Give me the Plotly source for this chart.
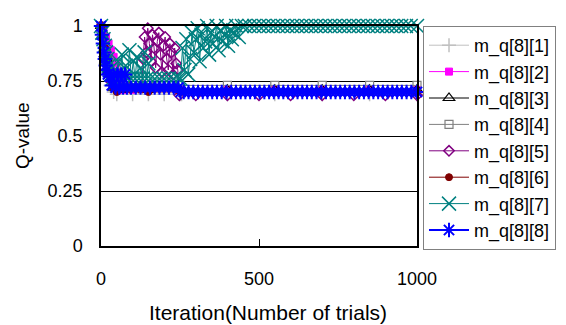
import plotly.graph_objects as go

# ---- data ----
names = ["m_q[8][1]", "m_q[8][2]", "m_q[8][3]", "m_q[8][4]",
         "m_q[8][5]", "m_q[8][6]", "m_q[8][7]", "m_q[8][8]"]

x1 = [0, 5, 10, 15, 20, 30, 40, 50, 100, 150, 200, 250, 255, 400, 550, 700, 850, 1000]
y1 = [1.00, 0.94, 0.88, 0.83, 0.78, 0.73, 0.70, 0.69, 0.69, 0.69, 0.69, 0.69, 0.69, 0.69, 0.69, 0.69, 0.69, 0.69]

x2 = [0, 8, 16, 24, 32, 40, 48, 55, 62, 70, 100, 150, 250, 400, 550, 700, 850, 1000]
y2 = [1.00, 0.98, 0.95, 0.92, 0.89, 0.86, 0.83, 0.79, 0.74, 0.71, 0.71, 0.71, 0.71, 0.71, 0.71, 0.71, 0.71, 0.71]

x3 = [0, 6, 12, 18, 24, 30, 40, 60, 150, 250, 400, 550, 700, 850, 1000]
y3 = [1.00, 0.95, 0.90, 0.85, 0.80, 0.76, 0.72, 0.71, 0.71, 0.71, 0.71, 0.71, 0.71, 0.71, 0.71]

x4 = [0, 6, 12, 18, 24, 30, 40, 50, 60, 150, 250, 400, 550, 700, 850, 1000]
y4 = [1.00, 0.96, 0.91, 0.87, 0.83, 0.79, 0.76, 0.74, 0.73, 0.73, 0.73, 0.73, 0.73, 0.73, 0.73, 0.73]

x5 = [0, 5, 10, 15, 20, 25, 30, 40, 60, 90, 120, 130,
      133, 138, 143, 148, 153, 158, 163, 168, 173, 178, 183, 188, 193, 198,
      203, 208, 213, 218, 223, 228, 233, 238, 243, 248,
      300, 400, 500, 600, 700, 800, 900, 1000]
y5 = [1.00, 0.95, 0.90, 0.86, 0.82, 0.78, 0.75, 0.73, 0.72, 0.72, 0.72, 0.72,
      0.85, 0.95, 0.88, 0.99, 0.92, 0.84, 0.96, 0.90, 0.81, 0.93, 0.97, 0.87, 0.79, 0.91,
      0.95, 0.85, 0.80, 0.92, 0.88, 0.78, 0.90, 0.83, 0.80, 0.685,
      0.685, 0.685, 0.685, 0.685, 0.685, 0.685, 0.685, 0.685]

x6 = [0, 6, 12, 18, 24, 30, 40, 50, 150, 250, 400, 550, 700, 850, 1000]
y6 = [1.00, 0.95, 0.90, 0.85, 0.80, 0.76, 0.72, 0.70, 0.70, 0.70, 0.70, 0.70, 0.70, 0.70, 0.70]

x7 = [0, 4, 8, 12, 16, 20, 24, 28, 32, 36,
      42, 48, 54, 60, 66, 72, 78, 84, 90, 96, 102, 108, 114, 120, 126, 132, 138, 144, 150, 156,
      170, 185, 200, 215, 230, 245, 252,
      258, 264, 270, 276, 282, 288, 294, 300, 306, 312, 318, 324, 330, 336, 342, 348, 354, 360,
      366, 372, 378, 384, 390, 396, 402, 408, 414, 420, 428, 436, 446,
      455, 470, 485, 500, 515, 530, 545, 560, 575, 590, 605, 620, 635, 650, 665, 680, 695,
      710, 725, 740, 755, 770, 785, 800, 815, 830, 845, 860, 875, 890, 905, 920, 935, 950,
      965, 980, 1000]
y7 = [1.00, 0.97, 0.94, 0.91, 0.88, 0.85, 0.82, 0.80, 0.78, 0.76,
      0.80, 0.76, 0.84, 0.76, 0.87, 0.76, 0.82, 0.76, 0.89, 0.76, 0.84, 0.76, 0.86, 0.76, 0.81,
      0.76, 0.88, 0.76, 0.83, 0.76,
      0.76, 0.76, 0.76, 0.76, 0.76, 0.76, 0.76,
      0.90, 0.80, 0.94, 0.78, 0.85, 0.97, 0.88, 0.94, 0.99, 0.84, 0.96, 0.90, 0.93, 1.00, 0.87,
      0.97, 0.92, 0.95, 1.00, 0.89, 0.98, 0.93, 0.96, 1.00, 0.91, 0.98, 0.94, 0.97, 1.00, 0.95,
      1.00,
      1.00, 1.00, 1.00, 1.00, 1.00, 1.00, 1.00, 1.00, 1.00, 1.00, 1.00, 1.00, 1.00, 1.00,
      1.00, 1.00, 1.00, 1.00, 1.00, 1.00, 1.00, 1.00, 1.00, 1.00, 1.00, 1.00, 1.00, 1.00,
      1.00, 1.00, 1.00, 1.00, 1.00, 1.00, 1.00, 1.00, 1.00, 1.00]

x8 = [0, 3, 6, 9, 12, 15, 18, 22, 28, 34, 40, 46, 52, 58, 64, 70, 76, 82,
      95, 110, 125, 140, 155, 170, 185, 200, 215, 230, 245, 252,
      262, 277, 292, 307, 322, 337, 352, 367, 382, 397, 412, 427, 442, 457, 472, 487,
      502, 517, 532, 547, 562, 577, 592, 607, 622, 637, 652, 667, 682, 697, 712, 727,
      742, 757, 772, 787, 802, 817, 832, 847, 862, 877, 892, 907, 922, 937, 952, 967,
      982, 1000]
y8 = [1.00, 0.96, 0.92, 0.88, 0.85, 0.82, 0.80, 0.78, 0.77, 0.73, 0.78, 0.72, 0.78, 0.72,
      0.78, 0.72, 0.78, 0.72,
      0.72, 0.72, 0.72, 0.72, 0.72, 0.72, 0.72, 0.72, 0.72, 0.72, 0.72, 0.70,
      0.70, 0.70, 0.70, 0.70, 0.70, 0.70, 0.70, 0.70, 0.70, 0.70, 0.70, 0.70, 0.70, 0.70,
      0.70, 0.70, 0.70, 0.70, 0.70, 0.70, 0.70, 0.70, 0.70, 0.70, 0.70, 0.70, 0.70, 0.70,
      0.70, 0.70, 0.70, 0.70, 0.70, 0.70, 0.70, 0.70, 0.70, 0.70, 0.70, 0.70, 0.70, 0.70,
      0.70, 0.70, 0.70, 0.70, 0.70, 0.70, 0.70, 0.70]

xs = [x1, x2, x3, x4, x5, x6, x7, x8]
ys = [y1, y2, y3, y4, y5, y6, y7, y8]

x_ticks = [0, 500, 1000]
y_ticks = [0, 0.25, 0.5, 0.75, 1]
y_tick_text = ["0", "0.25", "0.5", "0.75", "1"]

# ---- styles ----
colors = ["#C0C0C0", "#FF00FF", "#000000", "#808080",
          "#800080", "#800000", "#008080", "#0000FF"]
symbols = ["cross-thin-open", "square", "triangle-up-open", "square-open",
           "diamond-open", "circle", "x-thin-open", "asterisk-open"]
sizes = [10, 7, 10, 8, 8, 7, 14, 12]
line_w = [1, 1, 1, 1, 1, 1, 1, 2]
mk_w = [1.5, 1, 1.2, 1.2, 1.5, 1, 1.5, 2]

FONT = "Liberation Sans, Arial, sans-serif"

fig = go.Figure()
for i in range(8):
    fig.add_trace(go.Scatter(
        x=xs[i], y=ys[i], name=names[i], mode="lines+markers",
        line=dict(color=colors[i], width=line_w[i]),
        marker=dict(symbol=symbols[i], size=sizes[i], color=colors[i],
                    line=dict(color=colors[i], width=mk_w[i])),
        cliponaxis=False,
    ))

fig.update_layout(
    width=566, height=325,
    margin=dict(l=101, r=149, t=26, b=79, autoexpand=False),
    paper_bgcolor="white", plot_bgcolor="white",
    font=dict(family=FONT, size=18, color="black"),
    showlegend=True,
    legend=dict(
        x=1.019, y=1.0, xanchor="left", yanchor="top",
        bordercolor="#808080", borderwidth=1, bgcolor="white",
        font=dict(family=FONT, size=18, color="black"),
        itemwidth=40, tracegroupgap=0, maxheight=300,
    ),
    xaxis=dict(
        range=[0, 1000], tickvals=x_ticks, ticktext=[str(v) for v in x_ticks],
        ticks="inside", ticklen=7, tickcolor="black",
        showline=True, linecolor="black", linewidth=1.5, mirror=True,
        showgrid=False, zeroline=False, ticklabelstandoff=16,
        tickfont=dict(size=18),
    ),
    yaxis=dict(
        range=[0, 1], tickvals=y_ticks, ticktext=y_tick_text,
        ticks="", showline=True, linecolor="black", linewidth=1.5, mirror=True,
        showgrid=True, gridcolor="black", gridwidth=1, zeroline=False,
        ticklabelstandoff=13, tickfont=dict(size=18),
    ),
    annotations=[
        dict(text="Iteration(Number of trials)", x=0.527, y=0, xref="paper", yref="paper",
             xanchor="center", yanchor="middle", yshift=-66, showarrow=False,
             font=dict(family=FONT, size=21)),
        dict(text="Q-value", x=0, y=0.5, xref="paper", yref="paper",
             xanchor="center", yanchor="middle", xshift=-79, showarrow=False,
             textangle=-90, font=dict(family=FONT, size=19)),
    ],
)

fig.write_html("out.html", config={"displayModeBar": False},
               post_script="document.body.style.margin='0';document.body.style.overflow='hidden';")
